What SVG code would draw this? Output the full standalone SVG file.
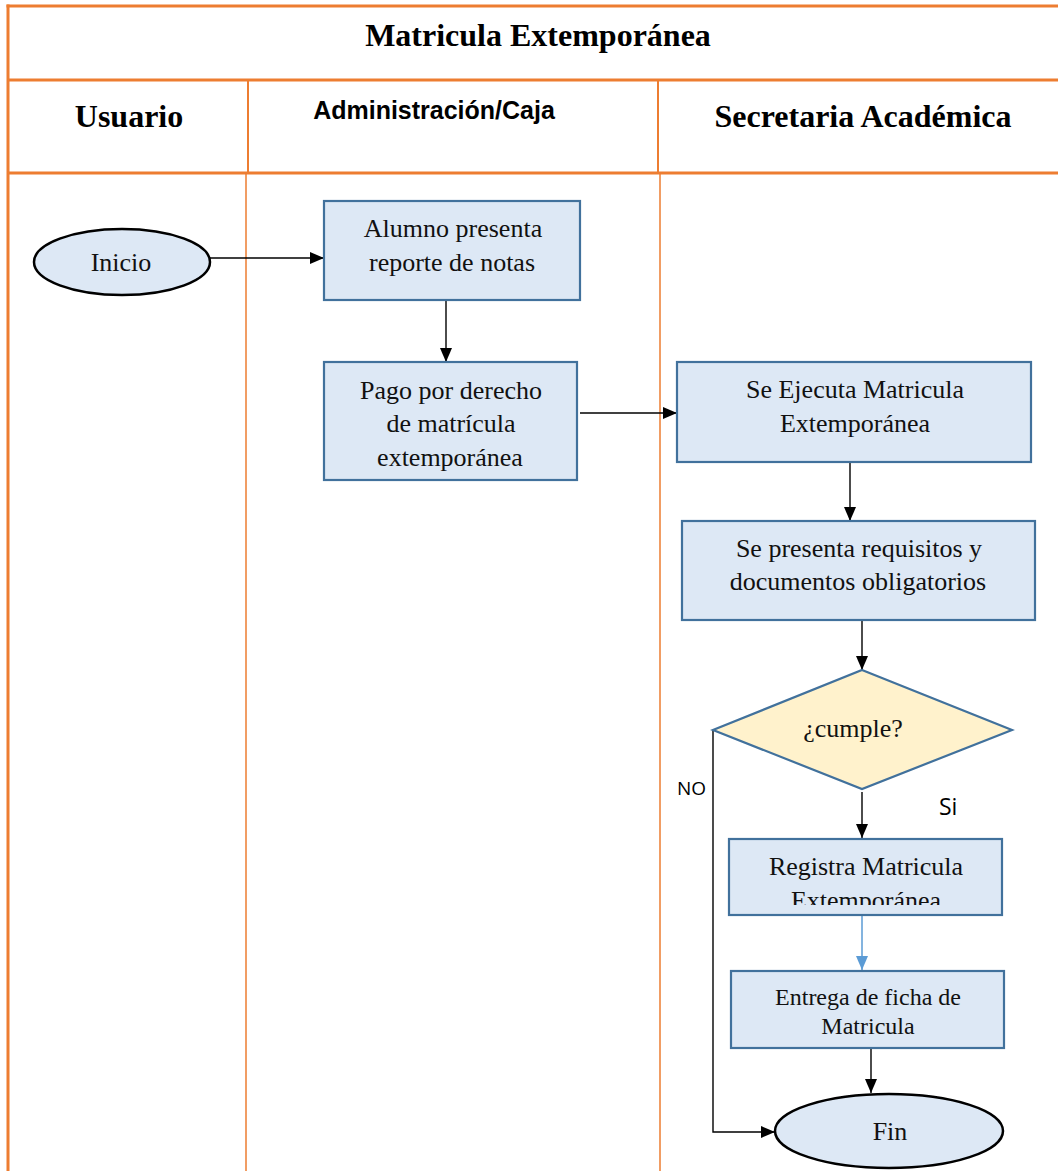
<svg xmlns="http://www.w3.org/2000/svg" width="1058" height="1171" viewBox="0 0 1058 1171">
  <style>
    .lane { stroke: #ed7d31; fill: none; }
    .hdr { font-family: "Liberation Serif", "Times New Roman", serif; font-weight: bold; font-size: 32px; fill: #000; text-anchor: middle; }
    .hdr-sans { font-family: "Liberation Sans", Arial, sans-serif; font-weight: bold; font-size: 25px; fill: #000; text-anchor: middle; }
    .box { fill: #dde8f5; stroke: #41719c; stroke-width: 2.2; }
    .term { fill: #dde8f5; stroke: #000; stroke-width: 2.5; }
    .dec { fill: #fff2cc; stroke: #41719c; stroke-width: 2.2; }
    .t { font-family: "Liberation Serif", "Times New Roman", serif; font-size: 26px; fill: #111; text-anchor: middle; }
    .t.small { font-size: 24px; }
    .lbl { font-family: "Open Sans", "Liberation Sans", sans-serif; fill: #000; }
    .flow { stroke: #000; stroke-width: 1.4; fill: none; }
  </style>
  <defs>
    <marker id="ah" markerWidth="14" markerHeight="12" refX="14" refY="6" orient="auto" markerUnits="userSpaceOnUse">
      <path d="M0,0 L14,6 L0,12 Z" fill="#000"/>
    </marker>
    <marker id="ahBlue" markerWidth="14" markerHeight="12" refX="14" refY="6" orient="auto" markerUnits="userSpaceOnUse">
      <path d="M0,0 L14,6 L0,12 Z" fill="#5b9bd5"/>
    </marker>
    <clipPath id="clipReg">
      <rect x="729" y="839" width="273" height="66"/>
    </clipPath>
  </defs>

  <rect x="0" y="0" width="1058" height="1171" fill="#fff"/>

  <!-- swimlane table -->
  <g id="lanes">
    <line class="lane" x1="6.5" y1="6" x2="1058" y2="6" stroke-width="3"/>
    <line class="lane" x1="8" y1="4.5" x2="8" y2="1171" stroke-width="3"/>
    <line class="lane" x1="8" y1="80" x2="1058" y2="80" stroke-width="3"/>
    <line class="lane" x1="8" y1="173" x2="1058" y2="173" stroke-width="3"/>
    <line class="lane" x1="248" y1="80" x2="248" y2="173" stroke-width="2"/>
    <line class="lane" x1="246" y1="173" x2="246" y2="1171" stroke-width="1.5"/>
    <line class="lane" x1="658" y1="80" x2="658" y2="173" stroke-width="2"/>
    <line class="lane" x1="660" y1="173" x2="660" y2="1171" stroke-width="1.5"/>
    <text class="hdr" x="538" y="46">Matricula Extemporánea</text>
    <text class="hdr" x="129" y="127">Usuario</text>
    <text class="hdr-sans" x="434" y="119">Administración/Caja</text>
    <text class="hdr" x="863" y="127">Secretaria Académica</text>
  </g>

  <!-- connectors -->
  <g id="connectors">
    <line class="flow" x1="210" y1="258" x2="324" y2="258" marker-end="url(#ah)"/>
    <line class="flow" x1="446" y1="300" x2="446" y2="362" marker-end="url(#ah)"/>
    <line class="flow" x1="580" y1="413" x2="677" y2="413" marker-end="url(#ah)"/>
    <line class="flow" x1="850" y1="462" x2="850" y2="521" marker-end="url(#ah)"/>
    <line class="flow" x1="862" y1="620" x2="862" y2="670" marker-end="url(#ah)"/>
    <line class="flow" x1="862" y1="792" x2="862" y2="838" marker-end="url(#ah)"/>
    <line x1="862" y1="916" x2="862" y2="970" stroke="#5b9bd5" stroke-width="1.5" marker-end="url(#ahBlue)"/>
    <line class="flow" x1="871" y1="1048" x2="871" y2="1093" marker-end="url(#ah)"/>
    <polyline class="flow" points="713,730 713,1132 775,1132" marker-end="url(#ah)"/>
    <text class="lbl" x="677" y="795" font-size="19">NO</text>
    <text class="lbl" x="939" y="815" font-size="23">Si</text>
  </g>

  <!-- nodes -->
  <g id="inicio">
    <ellipse class="term" cx="122" cy="262" rx="88" ry="33"/>
    <text class="t" x="121" y="271">Inicio</text>
  </g>

  <g id="alumno-presenta">
    <rect class="box" x="324" y="201" width="256" height="99"/>
    <text class="t" x="453" y="237">Alumno presenta</text>
    <text class="t" x="452" y="271">reporte de notas</text>
  </g>

  <g id="pago-derecho">
    <rect class="box" x="324" y="362" width="253" height="118"/>
    <text class="t" x="451" y="399">Pago por derecho</text>
    <text class="t" x="451" y="432">de matrícula</text>
    <text class="t" x="450" y="466">extemporánea</text>
  </g>

  <g id="ejecuta-matricula">
    <rect class="box" x="677" y="362" width="354" height="100"/>
    <text class="t" x="855" y="398">Se Ejecuta Matricula</text>
    <text class="t" x="855" y="432">Extemporánea</text>
  </g>

  <g id="presenta-requisitos">
    <rect class="box" x="682" y="521" width="353" height="99"/>
    <text class="t" x="859" y="557">Se presenta requisitos y</text>
    <text class="t" x="858" y="590">documentos obligatorios</text>
  </g>

  <g id="cumple">
    <polygon class="dec" points="862,670 1012,730 862,789 713,730"/>
    <text class="t" x="853" y="737">¿cumple?</text>
  </g>

  <g id="registra-matricula">
    <rect class="box" x="729" y="839" width="273" height="76"/>
    <g clip-path="url(#clipReg)">
      <text class="t" x="866" y="875">Registra Matricula</text>
      <text class="t" x="866" y="909">Extemporánea</text>
    </g>
  </g>

  <g id="entrega-ficha">
    <rect class="box" x="731" y="971" width="273" height="77"/>
    <text class="t small" x="868" y="1005">Entrega de ficha de</text>
    <text class="t small" x="868" y="1034">Matricula</text>
  </g>

  <g id="fin">
    <ellipse class="term" cx="889" cy="1131" rx="114" ry="37"/>
    <text class="t" x="890" y="1140">Fin</text>
  </g>
</svg>
